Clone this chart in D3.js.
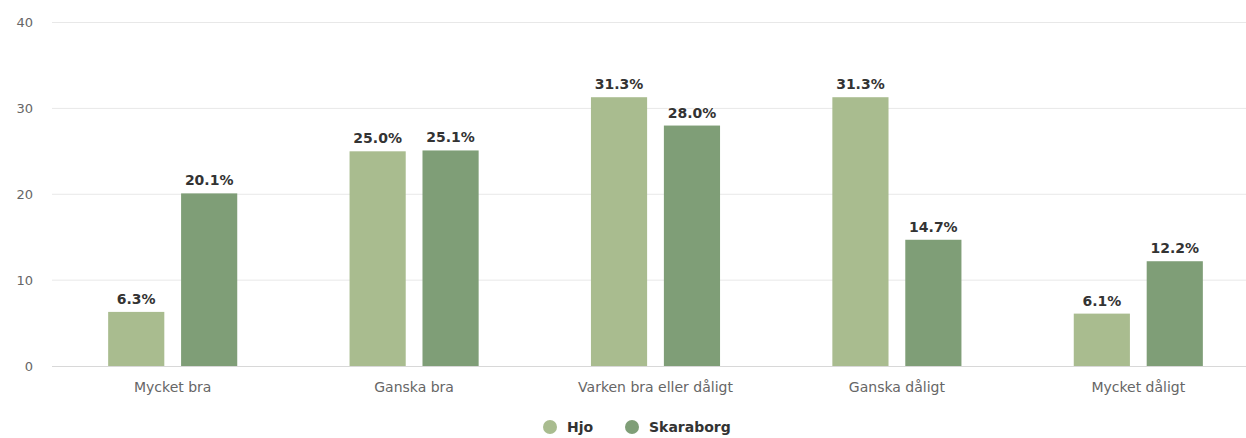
<!DOCTYPE html>
<html><head><meta charset="utf-8">
<script src="https://cdn.jsdelivr.net/npm/d3@7"></script>
<style>
html,body{margin:0;padding:0;background:#fff;}
svg{display:block;font-family:"DejaVu Sans",sans-serif;}
</style></head>
<body>
<svg id="chart" width="1246" height="438"></svg>
<script>
const categories = ["Mycket bra","Ganska bra","Varken bra eller dåligt","Ganska dåligt","Mycket dåligt"];
const seriesNames = ["Hjo","Skaraborg"];
const hjoValues = [6.3,25.0,31.3,31.3,6.1];
const skaraborgValues = [20.1,25.1,28.0,14.7,12.2];
const yTicks = [0,10,20,30,40];
const colors = ["#a9bc8f","#7f9e77"];

const svg = d3.select("#chart");
const x = d3.scaleBand().domain(categories).range([52,1259]).paddingInner(0).paddingOuter(0);
const y = d3.scaleLinear().domain([0,40]).range([366,22.5]);
const inner = d3.scaleBand().domain(seriesNames).range([0,x.bandwidth()]).paddingInner(0.23).paddingOuter(0.77);

// gridlines
svg.append("g").selectAll("line").data(yTicks.filter(d=>d>0)).join("line")
  .attr("x1",52).attr("x2",1246).attr("y1",d=>y(d)).attr("y2",d=>y(d))
  .attr("stroke","#e8e8e8").attr("stroke-width",1);

// y tick labels
svg.append("g").selectAll("text").data(yTicks).join("text")
  .attr("x",33).attr("y",d=>y(d)).attr("dy","0.35em").attr("text-anchor","end")
  .attr("font-size",13).attr("fill","#666").text(d=>d);

const data = categories.map((c,i)=>({cat:c, vals:[hjoValues[i],skaraborgValues[i]]}));
const groups = svg.append("g").selectAll("g").data(data).join("g")
  .attr("transform",d=>`translate(${x(d.cat)},0)`);
groups.selectAll("rect").data(d=>d.vals.map((v,j)=>({name:seriesNames[j],v,j}))).join("rect")
  .attr("x",d=>inner(d.name)).attr("width",inner.bandwidth())
  .attr("y",d=>y(d.v)).attr("height",d=>y(0)-y(d.v)).attr("fill",d=>colors[d.j]);
groups.selectAll("text").data(d=>d.vals.map((v,j)=>({name:seriesNames[j],v,j}))).join("text")
  .attr("x",d=>inner(d.name)+inner.bandwidth()/2).attr("y",d=>y(d.v)-8)
  .attr("text-anchor","middle").attr("font-size",14).attr("font-weight","bold")
  .attr("fill","#333").attr("stroke","#fff").attr("stroke-width",2).attr("paint-order","stroke")
  .text(d=>d.v.toFixed(1)+"%");

// x axis baseline
svg.append("line").attr("x1",52).attr("x2",1246).attr("y1",y(0)+0.5).attr("y2",y(0)+0.5)
  .attr("stroke","#d8d8d8");

// category labels
svg.append("g").selectAll("text").data(categories).join("text")
  .attr("x",d=>x(d)+x.bandwidth()/2).attr("y",392).attr("text-anchor","middle")
  .attr("font-size",14).attr("fill","#666").text(d=>d);

// legend
const legendX = [550,632];
const lg = svg.append("g").selectAll("g").data(seriesNames).join("g")
  .attr("transform",(d,i)=>`translate(${legendX[i]},427)`);
lg.append("circle").attr("r",7).attr("fill",(d,i)=>colors[i]);
lg.append("text").attr("x",17).attr("dy","0.35em").attr("font-size",14).attr("font-weight","bold")
  .attr("fill","#333").text(d=>d);
</script>
</body></html>
